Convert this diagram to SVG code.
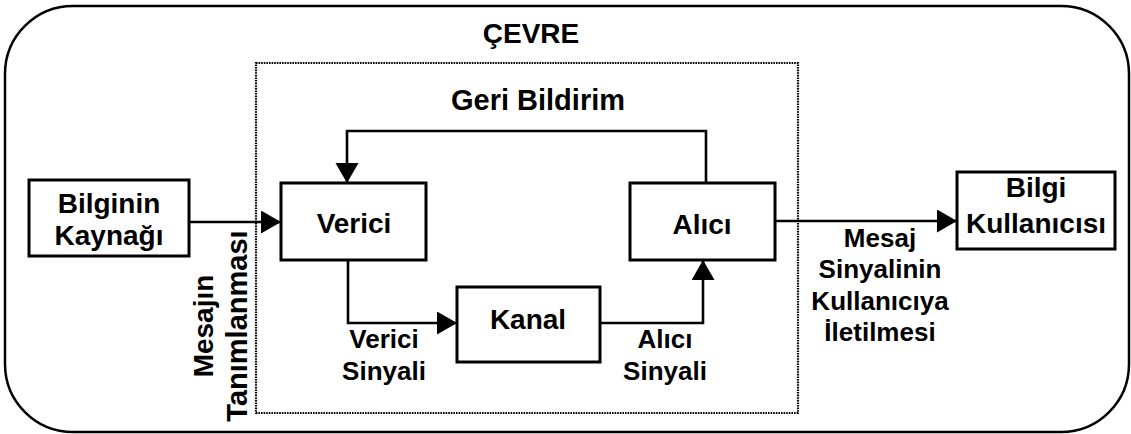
<svg xmlns="http://www.w3.org/2000/svg" width="1131" height="434" viewBox="0 0 1131 434">
  <style>
    .box { fill: #fff; stroke: #000; stroke-width: 3; }
    .line { fill: none; stroke: #000; stroke-width: 2.6; }
    .t { font-family: "Liberation Sans", Arial, Helvetica, sans-serif; font-weight: bold; fill: #000; text-anchor: middle; }
    .big { font-size: 28px; }
    .lbl { font-size: 26px; }
  </style>
  <defs>
    <marker id="arrow" markerUnits="userSpaceOnUse" markerWidth="22" markerHeight="24" refX="20" refY="11.5" orient="auto">
      <path d="M0,0 L20,11.5 L0,23 z" fill="#000"/>
    </marker>
  </defs>
  <rect width="1131" height="434" fill="#fff"/>

  <!-- environment frame -->
  <g id="cevre">
    <rect x="5" y="6" width="1124" height="426" rx="68" ry="68" fill="none" stroke="#000" stroke-width="2.5"/>
    <text class="t big" x="531" y="43">ÇEVRE</text>
  </g>

  <!-- communication system boundary -->
  <g id="sistem">
    <rect x="256" y="63" width="542" height="350" fill="none" stroke="#000" stroke-width="2.2" stroke-dasharray="1.6 1"/>
  </g>

  <!-- connectors -->
  <g id="connectors">
    <path class="line" d="M189,222 H281" marker-end="url(#arrow)"/>
    <path class="line" d="M706,183 V131 H347 V183" marker-end="url(#arrow)"/>
    <path class="line" d="M348,260 V323 H457" marker-end="url(#arrow)"/>
    <path class="line" d="M600,323 H703 V260" marker-end="url(#arrow)"/>
    <path class="line" d="M775,221 H957" marker-end="url(#arrow)"/>
    <text class="t" style="font-size:29px" x="538" y="110">Geri Bildirim</text>
    <text class="t lbl" x="384" y="348">Verici</text>
    <text class="t lbl" x="384" y="380">Sinyali</text>
    <text class="t lbl" x="665" y="348">Alıcı</text>
    <text class="t lbl" x="665" y="380">Sinyali</text>
    <text class="t lbl" x="880" y="247">Mesaj</text>
    <text class="t lbl" x="880" y="278">Sinyalinin</text>
    <text class="t lbl" x="880" y="310">Kullanıcıya</text>
    <text class="t lbl" x="880" y="341">İletilmesi</text>
    <text class="t big" transform="translate(213,326) rotate(-90)">Mesajın</text>
    <text class="t" style="font-size:29px" transform="translate(247,326) rotate(-90)">Tanımlanması</text>
  </g>

  <g id="kaynak">
    <rect class="box" x="29" y="180" width="160" height="76"/>
    <text class="t big" x="109" y="213">Bilginin</text>
    <text class="t big" x="109" y="245">Kaynağı</text>
  </g>

  <g id="verici">
    <rect class="box" x="281" y="183" width="145" height="77"/>
    <text class="t big" x="354" y="233">Verici</text>
  </g>

  <g id="kanal">
    <rect class="box" x="457" y="287" width="143" height="75"/>
    <text class="t big" x="528" y="329">Kanal</text>
  </g>

  <g id="alici">
    <rect class="box" x="630" y="183" width="145" height="77"/>
    <text class="t big" x="702" y="234">Alıcı</text>
  </g>

  <g id="kullanici">
    <rect class="box" x="957" y="172" width="158" height="77"/>
    <text class="t big" x="1036" y="197">Bilgi</text>
    <text class="t big" x="1036" y="233">Kullanıcısı</text>
  </g>
</svg>
